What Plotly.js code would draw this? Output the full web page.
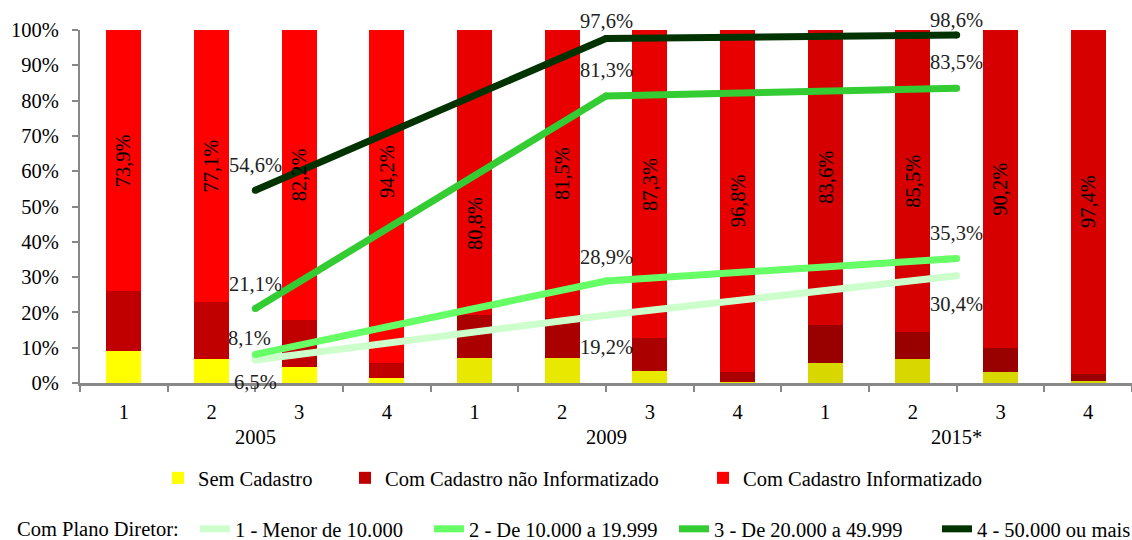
<!DOCTYPE html>
<html>
<head>
<meta charset="utf-8">
<script src="https://cdn.plot.ly/plotly-3.0.1.min.js"></script>
<style>
  html, body { margin: 0; padding: 0; background: #fff; }
  #chart { width: 1132px; height: 540px; }
</style>
</head>
<body>
<div id="chart"></div>
<script>
// Survey years and the four population-size groups within each year
const years = ['2005', '2009', '2015*'];
const quarters = ['1', '2', '3', '4'];

// Share of municipalities (%) by cadastre status, 4 groups per year
const semCadastro     = [9.1, 6.9, 4.4, 1.3,   7.2, 7.2, 3.4, 0.3,   5.8, 6.7, 3.0, 0.6];
const cadastroNaoInfo = [17.0, 16.0, 13.4, 4.5, 12.0, 11.3, 9.3, 2.9, 10.6, 7.8, 6.8, 2.0];
const cadastroInfo    = [73.9, 77.1, 82.2, 94.2, 80.8, 81.5, 87.3, 96.8, 83.6, 85.5, 90.2, 97.4];

// Share with a master plan (%), one value per year for each size group
const planoMenor10k  = [6.5, 19.2, 30.4];
const plano10a20k    = [8.1, 28.9, 35.3];
const plano20a50k    = [21.1, 81.3, 83.5];
const plano50kMais   = [54.6, 97.6, 98.6];

const barNames  = ['Sem Cadastro', 'Com Cadastro não Informatizado', 'Com Cadastro Informatizado'];
const lineNames = ['1 - Menor de 10.000', '2 - De 10.000 a 19.999', '3 - De 20.000 a 49.999', '4 - 50.000 ou mais'];

// ---- styling ----
const FONT = '"Liberation Serif", "Times New Roman", Tinos, "DejaVu Serif", serif';
const FS = 20.5;
const W = 1132, H = 540;
const PL = 80, PT = 30, PW = 1052, PH = 353;
const yellowByYear  = ['#FFFF00', '#E8E800', '#D8D800'];
const darkRedByYear = ['#C00000', '#AA0000', '#990000'];
const redByYear     = ['#FF0000', '#E80000', '#D60000'];
const lineColors    = ['#CCFFCC', '#66FF66', '#33CC33', '#003300'];
const AXIS = '#888888';

// label nudges (px) so value labels keep clear of the lines
const barLabelShift = [0, 0, 0, 25, -51, 0, 0, 0, 0, 0, 0, 0];
const lineLabelShift = [   // [dx, dy] per point, dy > 0 is upwards
  [[0, -22], [0, -32], [0, -28]],
  [[-6, 16], [0, 24], [0, 25]],
  [[0, 25], [0, 26], [0, 26]],
  [[0, 25], [0, 17], [0, 15]]
];

// category positions on a numeric axis
const labels = [];
years.forEach(() => quarters.forEach(q => labels.push(q)));
const xs = labels.map((_, i) => i);
const yearOf = xs.map(i => Math.floor(i / quarters.length));
const yearMid = years.map((_, g) => g * quarters.length + (quarters.length - 1) / 2);

const fmt = v => v.toFixed(1).replace('.', ',') + '%';
const cx = p => p / W;              // container-relative x (legends)
const cy = p => 1 - p / H;          // container-relative y (legends)
const px = p => (p - PL) / PW;      // paper-relative x (annotations)
const py = p => (PT + PH - p) / PH; // paper-relative y (annotations)

const barSeries = [semCadastro, cadastroNaoInfo, cadastroInfo];
const barPalettes = [yellowByYear, darkRedByYear, redByYear];
const barLegendX = [158, 345, 703];

const traces = [];
barSeries.forEach((vals, k) => {
  traces.push({
    type: 'bar',
    x: xs,
    y: vals,
    name: barNames[k],
    legend: 'legend' + (k === 0 ? '' : (k + 1)),
    marker: { color: yearOf.map(g => barPalettes[k][g]), line: { width: 0 } },
    hoverinfo: 'skip'
  });
});

const lineSeries = [planoMenor10k, plano10a20k, plano20a50k, plano50kMais];
const lineLegendX = [195, 429, 674, 937];
lineSeries.forEach((vals, k) => {
  traces.push({
    type: 'scatter', mode: 'lines',
    x: yearMid, y: vals,
    name: lineNames[k],
    legend: 'legend' + (k + 4),
    line: { color: lineColors[k], width: 7 },
    hoverinfo: 'skip'
  });
  // rounded ends of the line
  traces.push({
    type: 'scatter', mode: 'markers',
    x: yearMid, y: vals, showlegend: false,
    marker: { color: lineColors[k], size: 7 },
    hoverinfo: 'skip'
  });
});

const annotations = [];
// value of the computerised-cadastre segment, written up the bar
xs.forEach(i => {
  annotations.push({
    x: i, xref: 'x',
    y: semCadastro[i] + cadastroNaoInfo[i] + cadastroInfo[i] / 2, yref: 'y',
    yshift: barLabelShift[i],
    text: fmt(cadastroInfo[i]), textangle: -90, showarrow: false,
    xanchor: 'center', yanchor: 'middle',
    font: { family: FONT, size: FS, color: '#000' }
  });
});
// master-plan percentages beside each line point
lineSeries.forEach((vals, k) => {
  vals.forEach((v, g) => {
    annotations.push({
      x: yearMid[g], xref: 'x', y: v, yref: 'y',
      xshift: lineLabelShift[k][g][0], yshift: lineLabelShift[k][g][1],
      text: fmt(v), showarrow: false, xanchor: 'center', yanchor: 'middle',
      font: { family: FONT, size: FS, color: '#222' }
    });
  });
});
// year labels under each group of four bars
years.forEach((yr, g) => {
  annotations.push({
    x: yearMid[g], xref: 'x', y: py(437), yref: 'paper',
    text: yr, showarrow: false, xanchor: 'center', yanchor: 'middle',
    font: { family: FONT, size: FS, color: '#000' }
  });
});
annotations.push({
  x: px(15), xref: 'paper', y: py(529), yref: 'paper',
  text: 'Com Plano Diretor:', showarrow: false, xanchor: 'left', yanchor: 'middle',
  font: { family: FONT, size: FS, color: '#000' }
});

const legendBase = {
  orientation: 'h', xanchor: 'left', yanchor: 'middle',
  xref: 'container', yref: 'container',
  font: { family: FONT, size: FS, color: '#000' },
  bgcolor: 'rgba(0,0,0,0)', borderwidth: 0, traceorder: 'normal'
};

const layout = {
  width: W, height: H,
  margin: { l: PL, r: 0, t: PT, b: H - PT - PH },
  paper_bgcolor: '#fff', plot_bgcolor: '#fff',
  barmode: 'stack',
  bargap: 0.6,
  font: { family: FONT, size: FS, color: '#000' },
  xaxis: {
    range: [-0.5, xs.length - 0.5],
    tickmode: 'array', tickvals: xs, ticktext: labels,
    ticks: '', showgrid: false, zeroline: false,
    showline: true, linecolor: AXIS, linewidth: 2.5,
    ticklabelstandoff: 9,
    tickfont: { family: FONT, size: FS, color: '#000' },
    minor: { tickmode: 'linear', tick0: -0.5, dtick: 1, ticks: 'outside', ticklen: 6, tickwidth: 2, tickcolor: AXIS, showgrid: false },
    fixedrange: true
  },
  yaxis: {
    range: [0, 100], dtick: 10, ticksuffix: '%',
    ticks: 'outside', ticklen: 6, tickwidth: 2, tickcolor: AXIS,
    ticklabelstandoff: 9,
    showline: true, linecolor: AXIS, linewidth: 2,
    showgrid: false, zeroline: false,
    tickfont: { family: FONT, size: FS, color: '#000' },
    fixedrange: true
  },
  annotations: annotations,
  showlegend: true
};

barLegendX.forEach((p, k) => {
  layout['legend' + (k === 0 ? '' : (k + 1))] = Object.assign({}, legendBase, { x: cx(p), y: cy(478) });
});
lineLegendX.forEach((p, k) => {
  layout['legend' + (k + 4)] = Object.assign({}, legendBase, { x: cx(p), y: cy(529) });
});

Plotly.newPlot('chart', traces, layout, { displayModeBar: false, staticPlot: true });
</script>
</body>
</html>
